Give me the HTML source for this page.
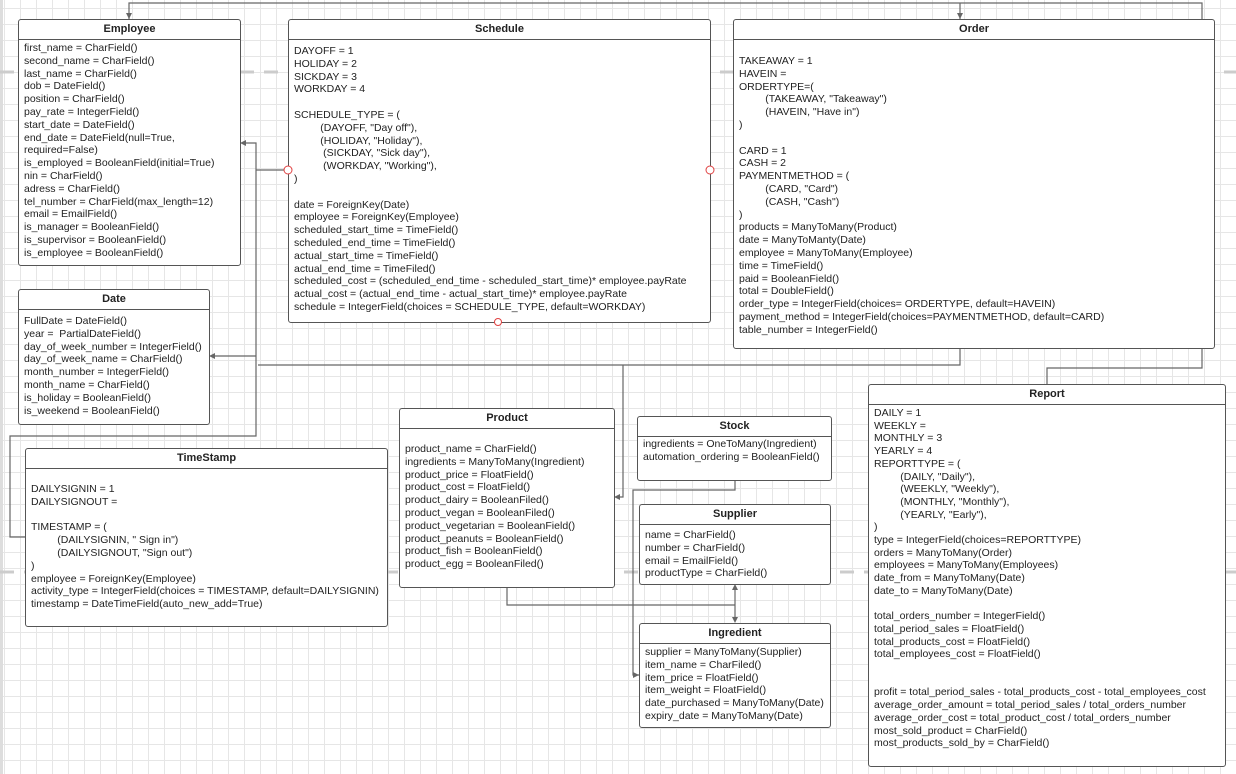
<!DOCTYPE html>
<html><head><meta charset="utf-8"><style>
html,body{margin:0;padding:0;}
body{width:1236px;height:774px;position:relative;overflow:hidden;background:#fff;
background-image:linear-gradient(#e6e6e6 1px,transparent 1px),linear-gradient(90deg,#e6e6e6 1px,transparent 1px);background-size:16px 16px;background-position:4px 8px;
font-family:"Liberation Sans",Arial,sans-serif;}
.b{position:absolute;border:1px solid #555;border-radius:3px;background:#fff;box-sizing:border-box;}
.h{height:19px;border-bottom:1px solid #555;text-align:center;font-weight:bold;font-size:11px;line-height:18px;color:#222;}
.t{position:absolute;left:5px;white-space:pre;font-size:10.5px;line-height:12.8px;color:#222;}
svg{position:absolute;left:0;top:0;}
</style></head><body>
<svg width="1236" height="774">
<rect x="0" y="0" width="3" height="774" fill="#ddd"/>
<line x1="0" y1="72" x2="1236" y2="72" stroke="#ccc" stroke-width="3" stroke-dasharray="14,10"/>
<line x1="0" y1="572" x2="1236" y2="572" stroke="#ccc" stroke-width="3" stroke-dasharray="14,10"/>
<g fill="none" stroke="#666" stroke-width="1.2">
<polyline points="129,19 129,3 1202,3 1202,368 1047,368 1047,384"/>
<line x1="960" y1="3" x2="960" y2="19"/>
<polyline points="960,348 960,365 258,365"/>
<polyline points="244,143 256,143 256,436 10,436 10,537 25,537"/>
<line x1="256" y1="170" x2="284" y2="170"/>
<line x1="213" y1="356" x2="256" y2="356"/>
<polyline points="623,365 623,497 618,497"/>
<polyline points="735,480 735,490 633,490 633,675 639,675"/>
<line x1="735" y1="588" x2="735" y2="619"/>
<polyline points="507,587 507,605 735,605"/>
</g>
<g fill="#666">
<polygon points="129,19 126,13 132,13"/>
<polygon points="960,19 957,13 963,13"/>
<polygon points="240,143 246,140 246,146"/>
<polygon points="209,356 215,353 215,359"/>
<polygon points="614,497 620,494 620,500"/>
<polygon points="639,675 633,672 633,678"/>
<polygon points="735,584 732,590 738,590"/>
<polygon points="735,623 732,617 738,617"/>
</g>
</svg>

<div class="b" style="left:18px;top:19px;width:223px;height:247px"><div class="h">Employee</div>
<div class="t" style="top:22px">first_name = CharField()
second_name = CharField()
last_name = CharField()
dob = DateField()
position = CharField()
pay_rate = IntegerField()
start_date = DateField()
end_date = DateField(null=True,
required=False)
is_employed = BooleanField(initial=True)
nin = CharField()
adress = CharField()
tel_number = CharField(max_length=12)
email = EmailField()
is_manager = BooleanField()
is_supervisor = BooleanField()
is_employee = BooleanField()</div></div>

<div class="b" style="left:288px;top:19px;width:423px;height:304px"><div class="h">Schedule</div>
<div class="t" style="top:25px">DAYOFF = 1
HOLIDAY = 2
SICKDAY = 3
WORKDAY = 4

SCHEDULE_TYPE = (
         (DAYOFF, "Day off"),
         (HOLIDAY, "Holiday"),
          (SICKDAY, "Sick day"),
          (WORKDAY, "Working"),
)

date = ForeignKey(Date)
employee = ForeignKey(Employee)
scheduled_start_time = TimeField()
scheduled_end_time = TimeField()
actual_start_time = TimeField()
actual_end_time = TimeFiled()
scheduled_cost = (scheduled_end_time - scheduled_start_time)* employee.payRate
actual_cost = (actual_end_time - actual_start_time)* employee.payRate
schedule = IntegerField(choices = SCHEDULE_TYPE, default=WORKDAY)</div></div>

<div class="b" style="left:733px;top:19px;width:482px;height:330px"><div class="h">Order</div>
<div class="t" style="top:35px">TAKEAWAY = 1
HAVEIN =
ORDERTYPE=(
         (TAKEAWAY, "Takeaway")
         (HAVEIN, "Have in")
)

CARD = 1
CASH = 2
PAYMENTMETHOD = (
         (CARD, "Card")
         (CASH, "Cash")
)
products = ManyToMany(Product)
date = ManyToManty(Date)
employee = ManyToMany(Employee)
time = TimeField()
paid = BooleanField()
total = DoubleField()
order_type = IntegerField(choices= ORDERTYPE, default=HAVEIN)
payment_method = IntegerField(choices=PAYMENTMETHOD, default=CARD)
table_number = IntegerField()</div></div>

<div class="b" style="left:18px;top:289px;width:192px;height:136px"><div class="h">Date</div>
<div class="t" style="top:25px">FullDate = DateField()
year =  PartialDateField()
day_of_week_number = IntegerField()
day_of_week_name = CharField()
month_number = IntegerField()
month_name = CharField()
is_holiday = BooleanField()
is_weekend = BooleanField()</div></div>

<div class="b" style="left:25px;top:448px;width:363px;height:179px"><div class="h">TimeStamp</div>
<div class="t" style="top:34px">DAILYSIGNIN = 1
DAILYSIGNOUT =

TIMESTAMP = (
         (DAILYSIGNIN, " Sign in")
         (DAILYSIGNOUT, "Sign out")
)
employee = ForeignKey(Employee)
activity_type = IntegerField(choices = TIMESTAMP, default=DAILYSIGNIN)
timestamp = DateTimeField(auto_new_add=True)</div></div>

<div class="b" style="left:399px;top:408px;width:216px;height:180px"><div class="h">Product</div>
<div class="t" style="top:34px">product_name = CharField()
ingredients = ManyToMany(Ingredient)
product_price = FloatField()
product_cost = FloatField()
product_dairy = BooleanFiled()
product_vegan = BooleanFiled()
product_vegetarian = BooleanField()
product_peanuts = BooleanField()
product_fish = BooleanField()
product_egg = BooleanFiled()</div></div>

<div class="b" style="left:637px;top:416px;width:195px;height:65px"><div class="h">Stock</div>
<div class="t" style="top:21px">ingredients = OneToMany(Ingredient)
automation_ordering = BooleanField()</div></div>

<div class="b" style="left:639px;top:504px;width:192px;height:81px"><div class="h">Supplier</div>
<div class="t" style="top:24px">name = CharField()
number = CharField()
email = EmailField()
productType = CharField()</div></div>

<div class="b" style="left:639px;top:623px;width:192px;height:105px"><div class="h">Ingredient</div>
<div class="t" style="top:22px">supplier = ManyToMany(Supplier)
item_name = CharFiled()
item_price = FloatField()
item_weight = FloatField()
date_purchased = ManyToMany(Date)
expiry_date = ManyToMany(Date)</div></div>

<div class="b" style="left:868px;top:384px;width:358px;height:383px"><div class="h">Report</div>
<div class="t" style="top:22px;line-height:12.7px">DAILY = 1
WEEKLY =
MONTHLY = 3
YEARLY = 4
REPORTTYPE = (
         (DAILY, "Daily"),
         (WEEKLY, "Weekly"),
         (MONTHLY, "Monthly"),
         (YEARLY, "Early"),
)
type = IntegerField(choices=REPORTTYPE)
orders = ManyToMany(Order)
employees = ManyToMany(Employees)
date_from = ManyToMany(Date)
date_to = ManyToMany(Date)

total_orders_number = IntegerField()
total_period_sales = FloatField()
total_products_cost = FloatField()
total_employees_cost = FloatField()


profit = total_period_sales - total_products_cost - total_employees_cost
average_order_amount = total_period_sales / total_orders_number
average_order_cost = total_product_cost / total_orders_number
most_sold_product = CharField()
most_products_sold_by = CharField()</div></div>

<svg width="1236" height="774">
<g fill="#fff" stroke="#e04040" stroke-width="1">
<circle cx="288" cy="170" r="4"/><circle cx="710" cy="170" r="4"/><circle cx="498" cy="322" r="3.5"/>
</g>
</svg>
</body></html>
